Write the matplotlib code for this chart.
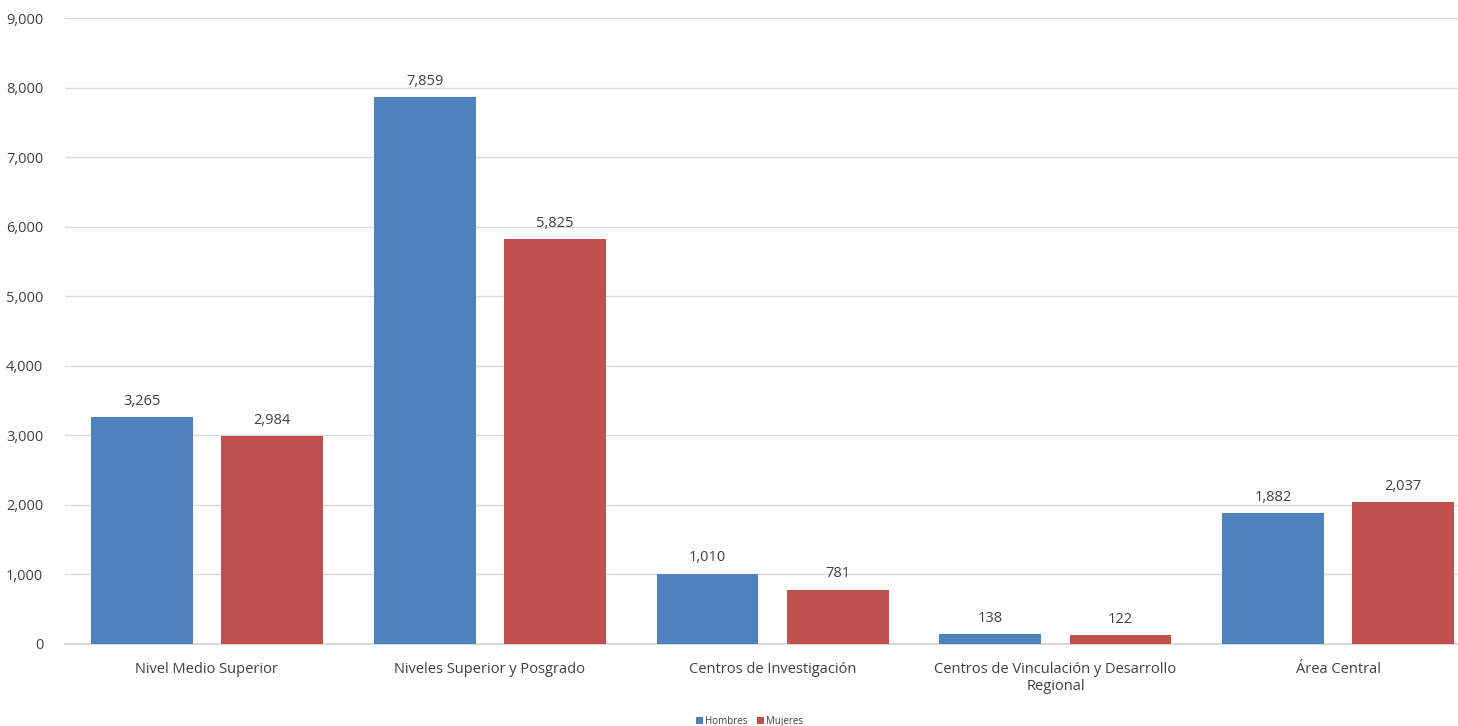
import numpy as np
import matplotlib.pyplot as plt

categorias = ['Nivel Medio Superior', 'Niveles Superior y Posgrado',
              'Centros de Investigación', 'Centros de Vinculación y Desarrollo\nRegional',
              'Área Central']
hombres = [3265, 7859, 1010, 138, 1882]
mujeres = [2984, 5825, 781, 122, 2037]

plt.rcParams['font.family'] = ['Open Sans', 'DejaVu Sans']

fig = plt.figure(figsize=(14.58, 7.26), dpi=100)
# el área del gráfico se sale un poco por la derecha, como en el original
ax = fig.add_axes([0.0449, 0.113, 0.97, 0.862])

x = np.arange(len(categorias))
w = 0.36
off = 0.23
b1 = ax.bar(x - off, hombres, w, color='#4f81bd', label='Hombres', zorder=3)
b2 = ax.bar(x + off, mujeres, w, color='#c0504d', label='Mujeres', zorder=3)

for bars, vals in ((b1, hombres), (b2, mujeres)):
    for r, v in zip(bars, vals):
        ax.text(r.get_x() + r.get_width() / 2, v + 120, f'{v:,}',
                ha='center', va='bottom', fontsize=10.5, color='#404040')

ax.set_xlim(-0.5, len(categorias) - 0.5)
ax.set_ylim(0, 9000)
ax.set_yticks(np.arange(0, 9001, 1000))
ax.yaxis.set_major_formatter(plt.FuncFormatter(lambda v, p: f'{int(v):,}'))
ax.set_xticks(x)
ax.set_xticklabels(categorias)
ax.tick_params(axis='both', length=0, labelsize=10.5, colors='#404040')
ax.tick_params(axis='y', pad=16)
ax.tick_params(axis='x', pad=13)
ax.grid(axis='y', color='#d9d9d9', linewidth=1, zorder=0)
for s in ['top', 'right', 'left']:
    ax.spines[s].set_visible(False)
ax.spines['bottom'].set_color('#d9d9d9')
ax.spines['bottom'].set_linewidth(1.5)

fig.legend(loc='lower center', bbox_to_anchor=(0.514, -0.013), ncol=2, frameon=False,
           fontsize=7, handlelength=0.7, handleheight=0.7, handletextpad=0.2,
           columnspacing=1.0, labelcolor='#404040')

fig.savefig('out.png', dpi=100)
